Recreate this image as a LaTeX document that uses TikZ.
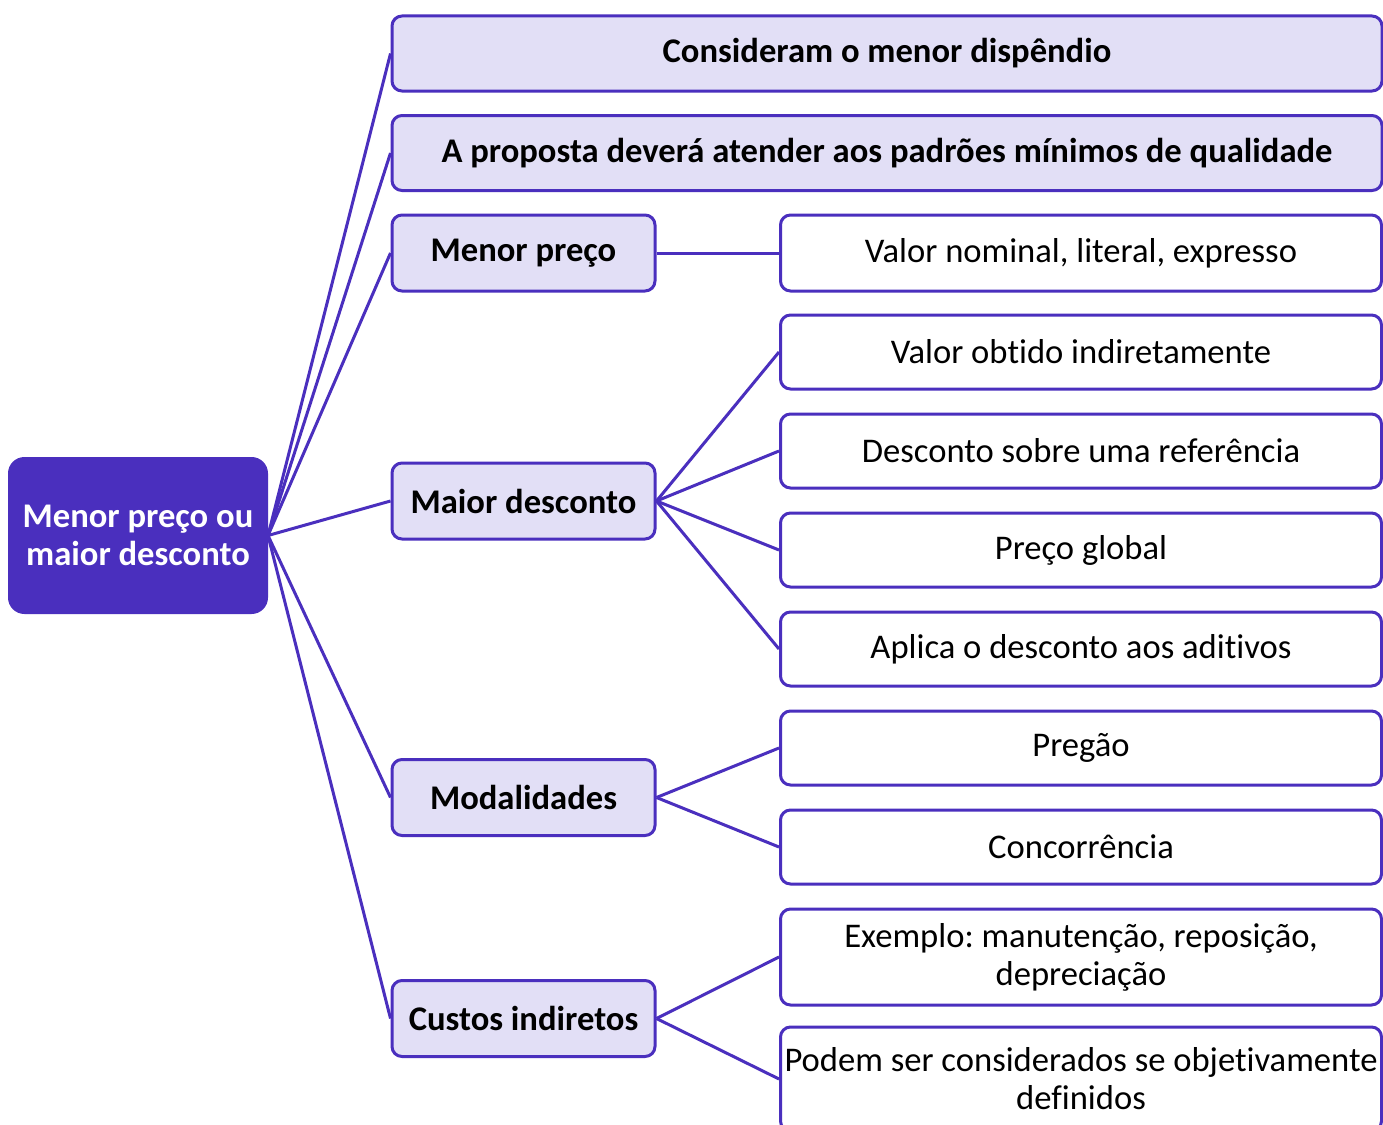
\documentclass[tikz,border=0pt]{standalone}
\usepackage{fontspec}
\setmainfont{Carlito}[Ligatures={NoCommon}]
\frenchspacing
\definecolor{pur}{HTML}{4A2FBE}
\definecolor{lav}{HTML}{E2DFF6}
\tikzset{
  base/.style={draw=pur, line width=3pt, rounded corners=10pt, inner sep=0pt, align=center, font=\fontsize{34.6}{38}\selectfont},
  rootbox/.style={base, fill=pur, text=white, rounded corners=15pt, font=\fontsize{34.6}{38}\selectfont\bfseries},
  lone/.style={base, fill=lav, font=\fontsize{34.6}{38}\selectfont\bfseries},
  ltwo/.style={base, fill=white},
  link/.style={draw=pur, line width=3pt}
}
\begin{document}
\begin{tikzpicture}[x=1pt,y=-1pt]
\clip (0,0) rectangle (1383,1124);
\fill[white] (0,0) rectangle (1383,1124);
% root
\node[rootbox, minimum width=257pt, minimum height=154pt] (root) at (138,535.5) {Menor preço ou\\maior desconto};
% level one
\node[lone, minimum width=990pt, minimum height=75pt] (a) at (887,53.5) {Consideram o menor dispêndio};
\node[lone, minimum width=990pt, minimum height=75pt] (b) at (887,153) {A proposta deverá atender aos padrões mínimos de qualidade};
\node[lone, minimum width=263pt, minimum height=76pt] (c) at (523.5,253) {Menor preço};
\node[lone, minimum width=263pt, minimum height=76pt] (d) at (523.5,501) {Maior desconto};
\node[lone, minimum width=263pt, minimum height=76pt] (e) at (523.5,797.5) {Modalidades};
\node[lone, minimum width=263pt, minimum height=76pt] (f) at (523.5,1018.5) {Custos indiretos};
% level two
\node[ltwo, minimum width=601pt, minimum height=76pt] (c1) at (1081,253) {Valor nominal, literal, expresso};
\node[ltwo, minimum width=601pt, minimum height=74pt] (d1) at (1081,352) {Valor obtido indiretamente};
\node[ltwo, minimum width=601pt, minimum height=74pt] (d2) at (1081,451) {Desconto sobre uma referência};
\node[ltwo, minimum width=601pt, minimum height=74pt] (d3) at (1081,550) {Preço global};
\node[ltwo, minimum width=601pt, minimum height=74pt] (d4) at (1081,649) {Aplica o desconto aos aditivos};
\node[ltwo, minimum width=601pt, minimum height=74pt] (e1) at (1081,748) {Pregão};
\node[ltwo, minimum width=601pt, minimum height=74pt] (e2) at (1081,847) {Concorrência};
\node[ltwo, minimum width=601pt, minimum height=96pt] (f1) at (1081,957) {Exemplo: manutenção, reposição,\\depreciação};
\node[ltwo, minimum width=601pt, minimum height=104pt] (f2) at (1081,1079) {Podem ser considerados se objetivamente\\definidos};
% connectors
\foreach \t in {a,b,c,d,e,f} \draw[link] (root.east) -- (\t.west);
\draw[link] (c.east) -- (c1.west);
\foreach \t in {d1,d2,d3,d4} \draw[link] (d.east) -- (\t.west);
\foreach \t in {e1,e2} \draw[link] (e.east) -- (\t.west);
\foreach \t in {f1,f2} \draw[link] (f.east) -- (\t.west);
\end{tikzpicture}
\end{document}
